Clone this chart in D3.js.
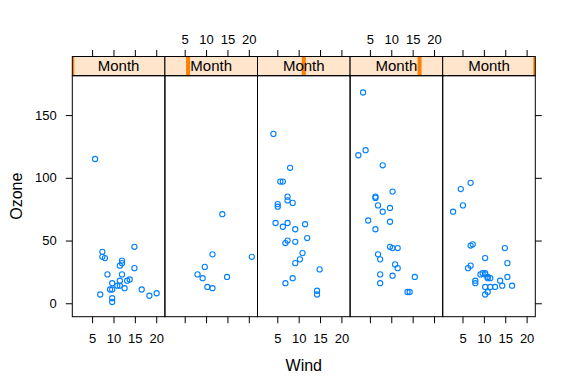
<!DOCTYPE html>
<html>
<head>
<meta charset="utf-8">
<script src="https://cdn.jsdelivr.net/npm/d3@7"></script>
<style>
  body { margin: 0; background: #fff; }
  text { font-family: "Liberation Sans", Arial, sans-serif; fill: #000; }
</style>
</head>
<body>
<div id="chart"></div>
<script>
// airquality: Ozone vs Wind, one panel per month (May..Sep), NA rows dropped
const months = [5, 6, 7, 8, 9];
const windMay = [7.4, 8.0, 12.6, 11.5, 14.9, 8.6, 13.8, 20.1, 6.9, 9.7, 9.2, 10.9, 13.2, 11.5, 12.0, 18.4, 11.5, 9.7, 9.7, 16.6, 9.7, 12.0, 12.0, 14.9, 5.7, 7.4];
const ozoneMay = [41, 36, 12, 18, 28, 23, 19, 8, 7, 16, 11, 14, 18, 14, 34, 6, 30, 11, 1, 11, 4, 32, 23, 45, 115, 37];
const windJun = [9.7, 13.8, 11.5, 8.0, 14.9, 20.7, 9.2, 11.5, 10.3];
const ozoneJun = [29, 71, 39, 23, 21, 37, 20, 12, 13];
const windJul = [4.1, 9.2, 9.2, 4.6, 10.9, 5.1, 6.3, 5.7, 7.4, 14.3, 14.9, 14.3, 6.9, 10.3, 6.3, 5.1, 11.5, 6.9, 8.6, 8.0, 8.6, 12.0, 7.4, 7.4, 7.4, 9.2];
const ozoneJul = [135, 49, 32, 64, 40, 77, 97, 97, 85, 10, 27, 7, 48, 35, 61, 79, 63, 16, 80, 108, 20, 52, 82, 50, 64, 59];
const windAug = [6.9, 13.8, 7.4, 6.9, 7.4, 4.6, 4.0, 10.3, 8.0, 11.5, 11.5, 9.7, 10.3, 6.3, 7.4, 10.9, 10.3, 15.5, 14.3, 9.7, 3.4, 8.0, 9.7, 2.3, 6.3, 6.3];
const ozoneAug = [39, 9, 16, 78, 35, 66, 122, 89, 110, 44, 28, 65, 22, 59, 23, 31, 44, 21, 9, 45, 168, 73, 76, 118, 84, 85];
const windSep = [6.9, 5.1, 2.8, 4.6, 7.4, 15.5, 10.9, 10.3, 10.9, 9.7, 14.9, 15.5, 6.3, 10.9, 11.5, 6.9, 13.8, 10.3, 10.3, 8.0, 12.6, 9.2, 10.3, 10.3, 16.6, 6.9, 14.3, 8.0, 11.5];
const ozoneSep = [96, 78, 73, 91, 47, 32, 20, 23, 21, 24, 44, 21, 28, 9, 13, 46, 18, 13, 24, 16, 13, 23, 36, 7, 14, 30, 14, 18, 20];
const xTicks = [5, 10, 15, 20];
const yTicks = [0, 50, 100, 150];

const panels = [
  { wind: windMay, ozone: ozoneMay },
  { wind: windJun, ozone: ozoneJun },
  { wind: windJul, ozone: ozoneJul },
  { wind: windAug, ozone: ozoneAug },
  { wind: windSep, ozone: ozoneSep },
];

const width = 574, height = 388;
const left = 72.3, right = 535.3;
const stripTop = 56.5, panelTop = 75.7, panelBottom = 316.7;
const pw = (right - left) / months.length;
const tick = 6.5;
const font = '"Liberation Sans", Arial, sans-serif';

const svg = d3.select('#chart').append('svg')
  .attr('width', width).attr('height', height);

const x = d3.scaleLinear().domain([0.37, 22.03]).range([0, pw]);
const y = d3.scaleLinear().domain([-10.7, 181.4]).range([panelBottom, panelTop]);
const mScale = d3.scaleLinear().domain([5, 9]).range([0, pw]);

panels.forEach((p, i) => {
  const g = svg.append('g').attr('transform', `translate(${left + i * pw},0)`);

  // points
  g.append('g').selectAll('circle')
    .data(p.wind.map((w, k) => [w, p.ozone[k]]))
    .enter().append('circle')
    .attr('cx', d => x(d[0]))
    .attr('cy', d => y(d[1]))
    .attr('r', 2.6)
    .attr('fill', 'none')
    .attr('stroke', '#0080ff')
    .attr('stroke-width', 1.1);

  // strip
  const clipId = 'clip' + i;
  g.append('clipPath').attr('id', clipId)
    .append('rect').attr('x', 0).attr('y', stripTop).attr('width', pw).attr('height', panelTop - stripTop);
  g.append('rect')
    .attr('x', 0).attr('y', stripTop).attr('width', pw).attr('height', panelTop - stripTop)
    .attr('fill', '#ffe5cc');
  g.append('rect')
    .attr('clip-path', `url(#${clipId})`)
    .attr('x', mScale(months[i]) - 2).attr('y', stripTop)
    .attr('width', 4).attr('height', panelTop - stripTop)
    .attr('fill', '#ff7f00');
  g.append('text')
    .attr('x', pw / 2).attr('y', (stripTop + panelTop) / 2 + 5.3)
    .attr('text-anchor', 'middle')
    .style('font-size', '15px')
    .attr('fill', '#222')
    .text('Month');
  g.append('rect')
    .attr('x', 0).attr('y', stripTop).attr('width', pw).attr('height', panelTop - stripTop)
    .attr('fill', 'none').attr('stroke', '#000').attr('stroke-width', 1);

  // panel box
  g.append('rect')
    .attr('x', 0).attr('y', panelTop).attr('width', pw).attr('height', panelBottom - panelTop)
    .attr('fill', 'none').attr('stroke', '#000').attr('stroke-width', 1);

  // x axes, labels alternate bottom / top
  const labelBottom = i % 2 === 0;
  const bottom = g.append('g').attr('transform', `translate(0,${panelBottom})`)
    .call(d3.axisBottom(x).tickValues(xTicks).tickSize(tick).tickSizeOuter(0)
      .tickFormat(labelBottom ? d3.format('d') : ''));
  const top = g.append('g').attr('transform', `translate(0,${stripTop})`)
    .call(d3.axisTop(x).tickValues(xTicks).tickSize(tick).tickSizeOuter(0)
      .tickFormat(labelBottom ? '' : d3.format('d')));
  [bottom, top].forEach(a => {
    a.select('.domain').remove();
    a.selectAll('line').attr('stroke', '#000');
    a.selectAll('text').style('font-size', '13px').attr('fill', '#000').style('font-family', font);
  });
  bottom.selectAll('text').attr('y', 17);
  top.selectAll('text').attr('y', -12.5);
});

// y axes
const yl = svg.append('g').attr('transform', `translate(${left},0)`)
  .call(d3.axisLeft(y).tickValues(yTicks).tickSize(tick).tickSizeOuter(0));
const yr = svg.append('g').attr('transform', `translate(${right},0)`)
  .call(d3.axisRight(y).tickValues(yTicks).tickSize(tick).tickSizeOuter(0).tickFormat(''));
[yl, yr].forEach(a => {
  a.select('.domain').remove();
  a.selectAll('line').attr('stroke', '#000');
  a.selectAll('text').style('font-size', '13px').attr('fill', '#000').style('font-family', font);
});
yl.selectAll('text').attr('x', -15.5);

// axis titles
svg.append('text')
  .attr('x', (left + right) / 2).attr('y', 370.5)
  .attr('text-anchor', 'middle')
  .style('font-size', '16px')
  .text('Wind');
svg.append('text')
  .attr('transform', `translate(22,${(panelTop + panelBottom) / 2}) rotate(-90)`)
  .attr('text-anchor', 'middle')
  .style('font-size', '16px')
  .text('Ozone');
</script>
</body>
</html>
